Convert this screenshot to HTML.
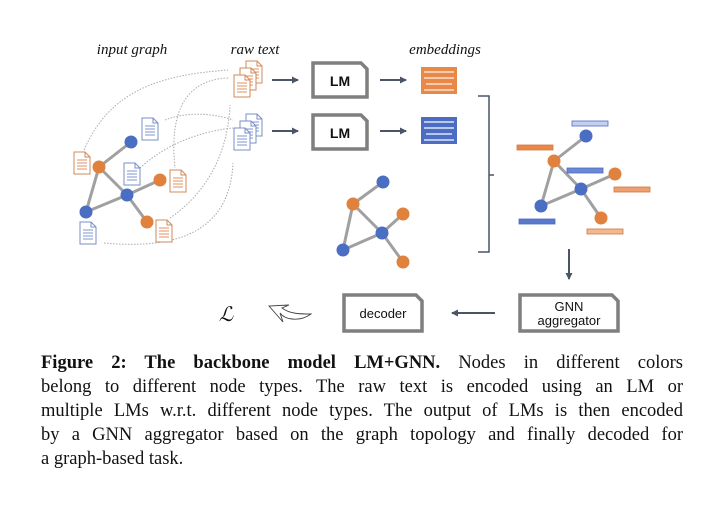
<!DOCTYPE html>
<html><head><meta charset="utf-8"><style>
body{margin:0;background:#fff;width:704px;height:530px;overflow:hidden;position:relative}
svg{position:absolute;left:0;top:0}
.cap{position:absolute;left:41px;width:642px;font-family:"Liberation Serif",serif;font-size:18.5px;color:#111;line-height:24px}
.j{text-align:justify;text-align-last:justify;white-space:nowrap}
</style></head><body>
<svg width="704" height="340" viewBox="0 0 704 340">
<defs>
<g id="docO"><path d="M0,0 H11 L16,5 V22 H0 Z" fill="#fff" stroke="#d08a5a" stroke-width="1"/><path d="M11,0 V5 H16" fill="none" stroke="#d08a5a"/><g stroke="#e09060" stroke-width="1"><line x1="3" y1="8" x2="13" y2="8"/><line x1="3" y1="11" x2="13" y2="11"/><line x1="3" y1="14" x2="13" y2="14"/><line x1="3" y1="17" x2="13" y2="17"/></g></g>
<g id="docB"><path d="M0,0 H11 L16,5 V22 H0 Z" fill="#fff" stroke="#7a8fc8" stroke-width="1"/><path d="M11,0 V5 H16" fill="none" stroke="#7a8fc8"/><g stroke="#7d94d0" stroke-width="1"><line x1="3" y1="8" x2="13" y2="8"/><line x1="3" y1="11" x2="13" y2="11"/><line x1="3" y1="14" x2="13" y2="14"/><line x1="3" y1="17" x2="13" y2="17"/></g></g>
<marker id="ah" markerWidth="8" markerHeight="8" refX="6" refY="4" orient="auto" markerUnits="userSpaceOnUse"><path d="M0,0.5 L7,4 L0,7.5 Z" fill="#4a5568"/></marker>
</defs>
<g font-family="Liberation Serif,serif" font-style="italic" font-size="15" fill="#111" text-anchor="middle">
<text x="132" y="54">input graph</text><text x="255" y="54">raw text</text><text x="445" y="54">embeddings</text></g>
<g fill="none" stroke="#aaa" stroke-width="1" stroke-dasharray="1.5,1.5">
<path d="M84,150 C110,90 160,75 228,70"/>
<path d="M228,78 C180,80 170,120 175,168"/>
<path d="M165,120 C190,110 220,115 233,120"/>
<path d="M140,168 C170,140 210,130 233,128"/>
<path d="M170,218 C210,190 228,150 230,105"/>
<path d="M104,243 C180,250 230,230 233,163"/>
</g>
<g stroke="#a0a0a0" stroke-width="3"><line x1="131" y1="142" x2="99" y2="167"/><line x1="99" y1="167" x2="86" y2="212"/><line x1="99" y1="167" x2="127" y2="195"/><line x1="127" y1="195" x2="160" y2="180"/><line x1="127" y1="195" x2="86" y2="212"/><line x1="127" y1="195" x2="147" y2="222"/></g>
<g><circle cx="131" cy="142" r="6.5" fill="#4a6fc2"/><circle cx="99" cy="167" r="6.5" fill="#e0823e"/><circle cx="127" cy="195" r="6.5" fill="#4a6fc2"/><circle cx="160" cy="180" r="6.5" fill="#e0823e"/><circle cx="86" cy="212" r="6.5" fill="#4a6fc2"/><circle cx="147" cy="222" r="6.5" fill="#e0823e"/></g>
<use href="#docO" x="74" y="152"/><use href="#docB" x="142" y="118"/><use href="#docB" x="124" y="163"/><use href="#docO" x="170" y="170"/><use href="#docO" x="156" y="220"/><use href="#docB" x="80" y="222"/>
<use href="#docO" x="246" y="61"/><use href="#docO" x="240" y="68"/><use href="#docO" x="234" y="75"/>
<use href="#docB" x="246" y="114"/><use href="#docB" x="240" y="121"/><use href="#docB" x="234" y="128"/>
<g stroke="#4a5568" stroke-width="2"><line x1="272" y1="80" x2="298" y2="80" marker-end="url(#ah)"/><line x1="272" y1="131" x2="298" y2="131" marker-end="url(#ah)"/><line x1="380" y1="80" x2="406" y2="80" marker-end="url(#ah)"/><line x1="380" y1="131" x2="406" y2="131" marker-end="url(#ah)"/><line x1="569" y1="249" x2="569" y2="279" marker-end="url(#ah)"/><line x1="495" y1="313" x2="452" y2="313" marker-end="url(#ah)"/></g>
<g fill="#fff" stroke="#7f7f7f" stroke-width="3.5">
<path d="M313,63 H361 L367,69 V97 H313 Z"/><path d="M313,115 H361 L367,121 V149 H313 Z"/>
<path d="M520,295 H612 L618,301 V331 H520 Z"/><path d="M344,295 H416 L422,301 V331 H344 Z"/></g>
<g font-family="Liberation Sans,sans-serif" fill="#111" text-anchor="middle">
<text x="340" y="86" font-size="14" font-weight="bold">LM</text><text x="340" y="138" font-size="14" font-weight="bold">LM</text>
<text x="383" y="318" font-size="13">decoder</text><text x="569" y="311" font-size="13">GNN</text><text x="569" y="325" font-size="13">aggregator</text></g>
<rect x="421" y="67" width="36" height="27" fill="#e8894a"/><g stroke="#fbe0cc" stroke-width="1.5"><line x1="424" y1="72" x2="454" y2="72"/><line x1="424" y1="78" x2="454" y2="78"/><line x1="426" y1="84" x2="452" y2="84"/><line x1="424" y1="90" x2="454" y2="90"/></g>
<rect x="421" y="117" width="36" height="27" fill="#4d6cc4"/><g stroke="#dde5f7" stroke-width="1.5"><line x1="424" y1="122" x2="454" y2="122"/><line x1="424" y1="128" x2="454" y2="128"/><line x1="426" y1="134" x2="452" y2="134"/><line x1="424" y1="140" x2="454" y2="140"/></g>
<path d="M478,96 H489 V175 H494 M489,175 V252 H478" fill="none" stroke="#4a5568" stroke-width="1.5"/>
<g stroke="#a0a0a0" stroke-width="3"><line x1="383" y1="182" x2="353" y2="204"/><line x1="353" y1="204" x2="343" y2="250"/><line x1="353" y1="204" x2="382" y2="233"/><line x1="382" y1="233" x2="403" y2="214"/><line x1="382" y1="233" x2="343" y2="250"/><line x1="382" y1="233" x2="403" y2="262"/></g>
<circle cx="383" cy="182" r="6.5" fill="#4a6fc2"/><circle cx="353" cy="204" r="6.5" fill="#e0823e"/><circle cx="382" cy="233" r="6.5" fill="#4a6fc2"/><circle cx="403" cy="214" r="6.5" fill="#e0823e"/><circle cx="343" cy="250" r="6.5" fill="#4a6fc2"/><circle cx="403" cy="262" r="6.5" fill="#e0823e"/>
<g stroke="#a0a0a0" stroke-width="3"><line x1="586" y1="136" x2="554" y2="161"/><line x1="554" y1="161" x2="541" y2="206"/><line x1="554" y1="161" x2="581" y2="189"/><line x1="581" y1="189" x2="615" y2="174"/><line x1="581" y1="189" x2="541" y2="206"/><line x1="581" y1="189" x2="601" y2="218"/></g>
<g stroke-width="0.8"><rect x="572" y="121" width="36" height="5" fill="#c5d0ef" stroke="#4d6cc4"/><rect x="517" y="145" width="36" height="5" fill="#e8894a" stroke="#d07840"/><rect x="567" y="168" width="36" height="5" fill="#6c88d2" stroke="#4d6cc4"/><rect x="614" y="187" width="36" height="5" fill="#eea070" stroke="#d07840"/><rect x="519" y="219" width="36" height="5" fill="#5a78cc" stroke="#4d6cc4"/><rect x="587" y="229" width="36" height="5" fill="#f2b890" stroke="#d07840"/></g>
<circle cx="586" cy="136" r="6.5" fill="#4a6fc2"/><circle cx="554" cy="161" r="6.5" fill="#e0823e"/><circle cx="581" cy="189" r="6.5" fill="#4a6fc2"/><circle cx="615" cy="174" r="6.5" fill="#e0823e"/><circle cx="541" cy="206" r="6.5" fill="#4a6fc2"/><circle cx="601" cy="218" r="6.5" fill="#e0823e"/>
<path d="M311,314 C300,322 285,320 280,313 L283,322 L269,306 L289,305 L282,308 C290,314 300,314 311,314 Z" fill="#fff" stroke="#444" stroke-width="0.9"/>
<text x="226" y="321" font-family="DejaVu Serif,serif" font-style="italic" font-size="20" text-anchor="middle" fill="#111">ℒ</text>
</svg>
<div class="cap j" style="top:351px"><b>Figure 2: The backbone model LM+GNN.</b> Nodes in different colors</div>
<div class="cap j" style="top:375px">belong to different node types. The raw text is encoded using an LM or</div>
<div class="cap j" style="top:399px">multiple LMs w.r.t. different node types. The output of LMs is then encoded</div>
<div class="cap j" style="top:423px">by a GNN aggregator based on the graph topology and finally decoded for</div>
<div class="cap" style="top:447px">a graph-based task.</div>
</body></html>
